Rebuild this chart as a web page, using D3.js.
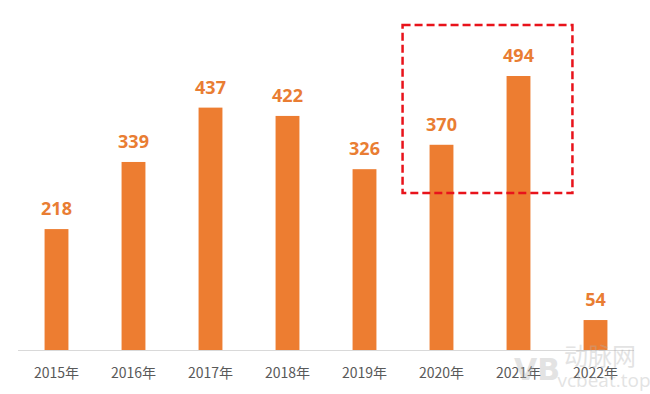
<!DOCTYPE html>
<html>
<head>
<meta charset="utf-8">
<script src="https://cdn.jsdelivr.net/npm/d3@7/dist/d3.min.js"></script>
<style>
  body { margin: 0; background: #fff; }
  svg { display: block; }
</style>
</head>
<body>
<svg id="chart"></svg>
<script>
// data
const years = ["2015年", "2016年", "2017年", "2018年", "2019年", "2020年", "2021年", "2022年"];
const values = [218, 339, 437, 422, 326, 370, 494, 54];
const highlighted = ["2020年", "2021年"];

const width = 650, height = 394;
const baseY = 350;

const svg = d3.select("#chart")
    .attr("width", width)
    .attr("height", height);

const x = d3.scaleBand()
    .domain(years)
    .range([18, 634])
    .paddingInner(0.69)
    .paddingOuter(0.345);

const y = d3.scaleLinear()
    .domain([0, 494])
    .range([baseY, 76]);

// baseline
svg.append("line")
    .attr("x1", 18).attr("x2", 634)
    .attr("y1", baseY + 0.5).attr("y2", baseY + 0.5)
    .attr("stroke", "#d9d9d9")
    .attr("stroke-width", 1);

// bars
svg.append("g")
    .selectAll("rect")
    .data(values)
    .enter().append("rect")
    .attr("x", (d, i) => x(years[i]))
    .attr("y", d => y(d))
    .attr("width", x.bandwidth())
    .attr("height", d => baseY - y(d))
    .attr("fill", "#ED7D31");

// value labels
svg.append("g")
    .selectAll("text")
    .data(values)
    .enter().append("text")
    .attr("x", (d, i) => x(years[i]) + x.bandwidth() / 2)
    .attr("y", d => y(d) - 14)
    .attr("text-anchor", "middle")
    .attr("font-family", "'Open Sans', sans-serif")
    .attr("font-weight", 700)
    .attr("font-size", 18)
    .attr("fill", "#E97D33")
    .text(d => d);

// category axis
const xAxis = svg.append("g")
    .attr("transform", `translate(0,${baseY})`)
    .call(d3.axisBottom(x).tickSize(0).tickPadding(0));
xAxis.select(".domain").remove();
xAxis.selectAll("text")
    .attr("dy", null)
    .attr("y", 28)
    .attr("font-family", "'Noto Sans CJK SC', sans-serif")
    .attr("font-size", 14)
    .attr("fill", "#595959");

// red dashed highlight box around 2020-2021
const hx0 = x(highlighted[0]) - 27;
const hx1 = x(highlighted[1]) + x.bandwidth() + 42;
svg.append("rect")
    .attr("x", hx0)
    .attr("y", 25)
    .attr("width", hx1 - hx0)
    .attr("height", 168)
    .attr("fill", "none")
    .attr("stroke", "#E8131B")
    .attr("stroke-width", 2.5)
    .attr("stroke-dasharray", "8,4");

// watermark (sits over the last labels, as in the original image)
const wm = svg.append("g").attr("opacity", 0.35).attr("fill", "#b0b0b0");
wm.append("text")
    .attr("x", 537).attr("y", 380)
    .attr("text-anchor", "middle")
    .attr("font-family", "'DejaVu Sans', sans-serif")
    .attr("font-weight", 700)
    .attr("font-size", 30)
    .text("VB");
wm.append("text")
    .attr("x", 600).attr("y", 365)
    .attr("text-anchor", "middle")
    .attr("font-family", "'Noto Sans CJK SC', sans-serif")
    .attr("font-size", 24)
    .text("动脉网");
wm.append("text")
    .attr("x", 604).attr("y", 387)
    .attr("text-anchor", "middle")
    .attr("font-family", "'Open Sans', sans-serif")
    .attr("font-size", 19)
    .text("vcbeat.top");
</script>
</body>
</html>
